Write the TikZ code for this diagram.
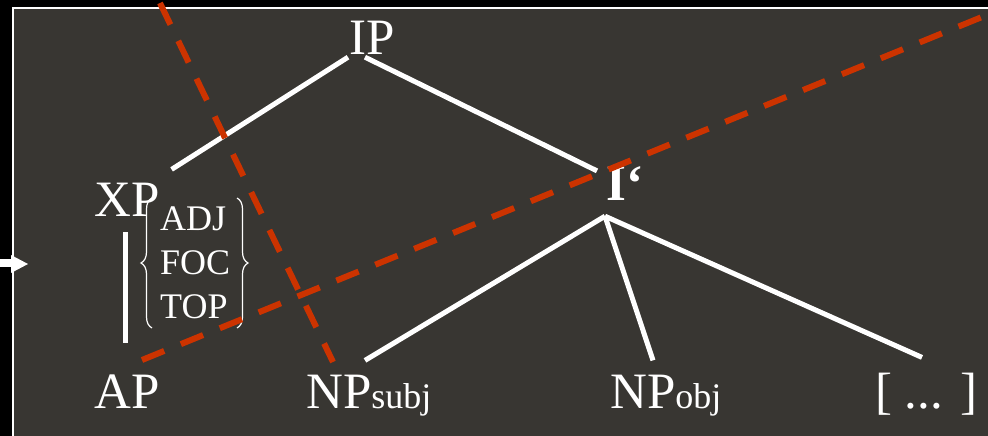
\documentclass[tikz,border=0pt]{standalone}
\usepackage{fontspec}
\setmainfont{Liberation Serif}
\usetikzlibrary{decorations.pathreplacing}
\definecolor{bgray}{RGB}{56,54,50}
\definecolor{rred}{RGB}{204,51,0}
\begin{document}
\begin{tikzpicture}[x=1pt,y=-1pt,
  lbl/.style={text=white,inner sep=0pt,anchor=base west,font=\fontsize{51}{60}\selectfont},
  feat/.style={text=white,inner sep=0pt,anchor=base west,font=\fontsize{36}{44}\selectfont},
  branch/.style={draw=white,line width=5pt},
  reddash/.style={draw=rred,line width=6pt,dash pattern=on 24pt off 18pt},
  brc/.style={draw=white,line width=1.2pt,decorate,decoration={brace,amplitude=11pt}}]
\useasboundingbox (0,0) rectangle (988,436);
% background
\fill[black] (0,0) rectangle (988,436);
\fill[bgray] (13,8) rectangle (988,436);
\draw[white,line width=2.5pt] (13,437) -- (13,8) -- (989,8);
% left arrow
\fill[white] (0,259) rectangle (13,267);
\fill[white] (11,255) -- (28,264) -- (11,273) -- cycle;
% labels
\node[lbl] (IP) at (349,55) {IP};
\node[lbl] (XP) at (94,216) {XP};
\node[lbl] (Ib) at (606,200) {\bfseries I‘};
\node[lbl] (AP) at (94,408) {AP};
\node[lbl] (NPs) at (306,408) {NP{\fontsize{36}{40}\selectfont subj}};
\node[lbl] (NPo) at (610,408) {NP{\fontsize{36}{40}\selectfont obj}};
\node[lbl] (etc) at (875,408) {[ ... ]};
\node[feat] (adj) at (160,230) {ADJ};
\node[feat] (foc) at (160,274) {FOC};
\node[feat] (top) at (160,318) {TOP};
% braces
\draw[brc] (152,328) -- (152,198);
\draw[brc] (237,198) -- (237,328);
% branches
\draw[branch] ([shift={(-1,2)}]IP.south west) -- ([shift={(12,-13)}]XP.north east);
\draw[branch] ([shift={(16,2)}]IP.south west) -- ([shift={(-9,5)}]Ib.north west);
\draw[branch] ([shift={(31,16)}]XP.south west) -- ([shift={(31,-31)}]AP.north west);
\draw[branch] ([shift={(-1,16)}]Ib.south west) -- ([shift={(59,-14)}]NPs.north west);
\draw[branch] ([shift={(-1,16)}]Ib.south west) -- ([shift={(43,-14)}]NPo.north west);
\draw[branch] ([shift={(-1,16)}]Ib.south west) -- ([shift={(47,-15)}]etc.north west);
% red dashed lines
\coordinate (r1a) at (160,3);
\coordinate (r1b) at (333,362);
\coordinate (r2a) at (142,360);
\coordinate (r2b) at (982,17);
\draw[reddash] (r1a) -- (r1b);
\draw[reddash] (r2a) -- (r2b);
\end{tikzpicture}
\end{document}
